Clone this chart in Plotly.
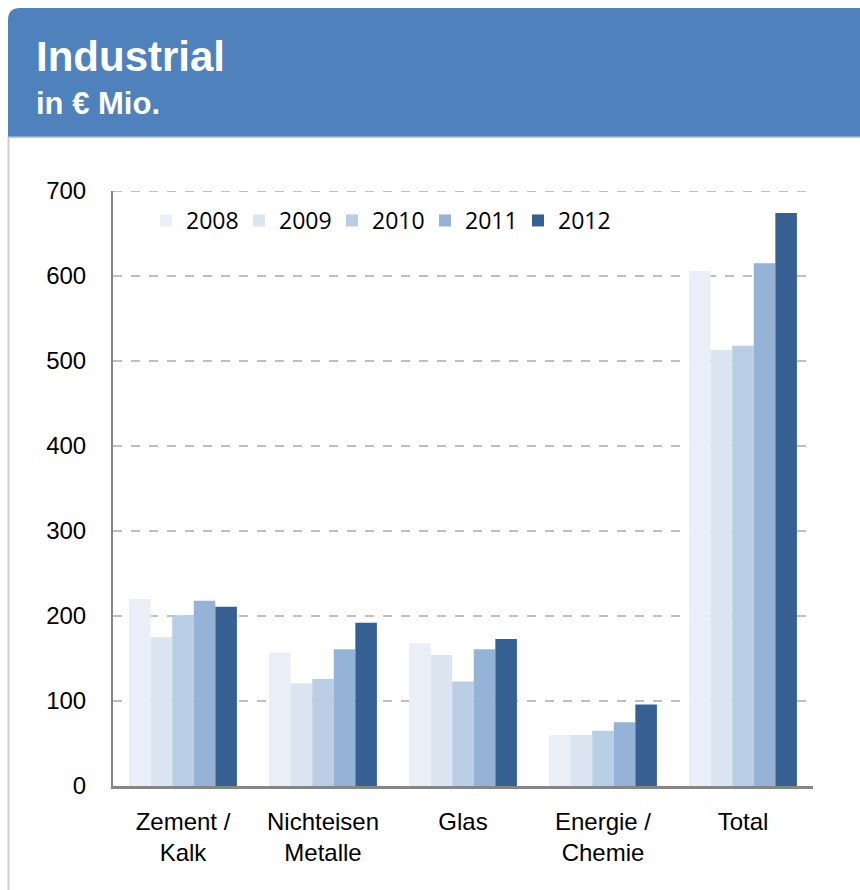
import plotly.graph_objects as go

categories = ["Zement /<br>Kalk", "Nichteisen<br>Metalle", "Glas", "Energie /<br>Chemie", "Total"]
years = ["2008", "2009", "2010", "2011", "2012"]
v2008 = [220, 157, 168, 60, 606]
v2009 = [175, 121, 154, 60, 513]
v2010 = [201, 126, 123, 65, 518]
v2011 = [218, 161, 161, 75, 615]
v2012 = [211, 192, 173, 96, 674]
series = [v2008, v2009, v2010, v2011, v2012]
colors = ["#E9EEF7", "#DBE5F1", "#B9CDE5", "#95B3D7", "#376092"]
yticks = [0, 100, 200, 300, 400, 500, 600, 700]

W, H = 860, 890
L, R, T, B = 113, 813, 191, 786

def px(x):
    return (x - L) / (R - L)

def py(y):
    return (B - y) / (B - T)

fig = go.Figure()
for name, vals, c in zip(years, series, colors):
    fig.add_trace(go.Bar(x=categories, y=vals, name=name, marker=dict(color=c, line=dict(width=0))))

# header panel with rounded top-left corner
x0, x1 = px(8), px(870)
yt, yb = py(8), py(137)
rx = 12 / (R - L)
ry = 12 / (B - T)
path = (f"M {x0},{yb} L {x0},{yt - ry} Q {x0},{yt} {x0 + rx},{yt} "
        f"L {x1},{yt} L {x1},{yb} Z")
shapes = [
    dict(type="path", path=path, xref="paper", yref="paper",
         fillcolor="#4F81BD", line=dict(width=0), layer="below"),
    dict(type="line", xref="paper", yref="paper", x0=px(8), x1=px(870), y0=py(137), y1=py(137),
         line=dict(color="#9DB8DC", width=1.5)),
    dict(type="line", xref="paper", yref="paper", x0=px(8.5), x1=px(8.5), y0=py(138), y1=py(892),
         line=dict(color="#D0D0D0", width=2)),
    # top gridline at 700
    dict(type="line", xref="paper", yref="y", x0=0, x1=1, y0=yticks[-1], y1=yticks[-1],
         line=dict(color="#BFBFBF", width=2, dash="dash"), layer="below"),
]

annotations = [
    dict(text="<b>Industrial</b>", x=px(34), y=py(57), xref="paper", yref="paper",
         xanchor="left", yanchor="middle", showarrow=False,
         font=dict(family="Liberation Sans, Arial", size=42, color="white")),
    dict(text="<b>in € Mio.</b>", x=px(34), y=py(103), xref="paper", yref="paper",
         xanchor="left", yanchor="middle", showarrow=False,
         font=dict(family="Liberation Sans, Arial", size=31, color="white")),
]

fig.update_layout(
    width=W, height=H,
    margin=dict(l=L, r=W - R, t=T, b=H - B, pad=0),
    paper_bgcolor="white", plot_bgcolor="white",
    barmode="group", bargap=0.23, bargroupgap=0,
    shapes=shapes, annotations=annotations,
    font=dict(family="Liberation Sans, Arial", size=24, color="black"),
    legend=dict(orientation="h", x=px(146), y=py(199), xanchor="left", yanchor="top",
                font=dict(family="Open Sans", size=23, color="black"),
                bgcolor="rgba(0,0,0,0)", traceorder="normal", itemwidth=30,
                entrywidth=48, entrywidthmode="pixels",
                tracegroupgap=0),
    xaxis=dict(showline=True, linecolor="#868686", linewidth=3, ticks="",
               tickfont=dict(size=24), showgrid=False, ticklabelstandoff=12),
    yaxis=dict(range=[0, 700], tickvals=yticks, showline=True, linecolor="#868686", linewidth=2,
               showgrid=True, gridcolor="#BFBFBF", gridwidth=2, griddash="dash",
               ticks="", ticklabelstandoff=20, tickfont=dict(size=24), zeroline=False),
)

fig.write_html("out.html")
